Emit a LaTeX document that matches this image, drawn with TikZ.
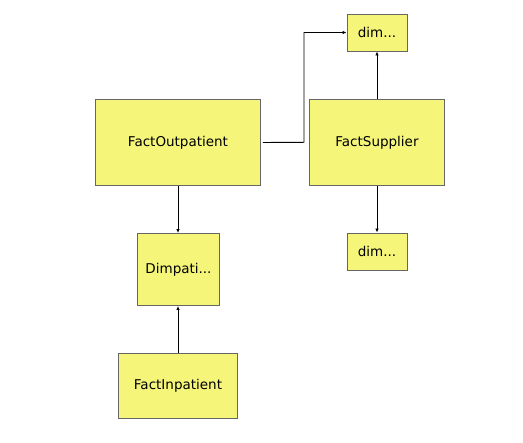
\documentclass[tikz,border=0pt]{standalone}
\usepackage{fontspec}
\setmainfont{DejaVu Sans}
\usetikzlibrary{arrows.meta}
\definecolor{boxfill}{RGB}{245,245,122}
\definecolor{boxline}{RGB}{102,102,102}
\tikzstyle{table} = [draw=boxline, fill=boxfill, line width=0.9pt, inner sep=0pt, font=\fontsize{13.5}{16}\selectfont]
\tikzstyle{link} = [line width=0.9pt, -{Latex[length=4pt,width=3.5pt]}]

\begin{document}
\begin{tikzpicture}[x=1pt, y=-1pt]
      \useasboundingbox (0,0) rectangle (523,443);
      \node[table, minimum width=165pt, minimum height=86pt] (out) at (178,142.5) {FactOutpatient};
      \node[table, minimum width=135pt, minimum height=86pt] (sup) at (377,142.3) {FactSupplier};
      \node[table, minimum width=60pt, minimum height=37pt] (dimA) at (377,32.5) {dim...};
      \node[table, minimum width=60pt, minimum height=37pt] (dimB) at (377,251.5) {dim...};
      \node[table, minimum width=82pt, minimum height=72pt] (dimpat) at (178.5,269.5) {Dimpati...};
      \node[table, minimum width=119pt, minimum height=65pt] (inp) at (178,385.8) {FactInpatient};
      \coordinate (bend) at (304,142.3);
      \draw[link, shorten <=2pt] (out.east) -- (bend) |- (dimA.west);
      \draw[link] (sup.north) -- (dimA.south);
      \draw[link] (sup.south) -- (dimB.north);
      \draw[link] (out.south) -- (out.south |- dimpat.north);
      \draw[link] (inp.north) -- (inp.north |- dimpat.south);
    \end{tikzpicture}
\end{document}
